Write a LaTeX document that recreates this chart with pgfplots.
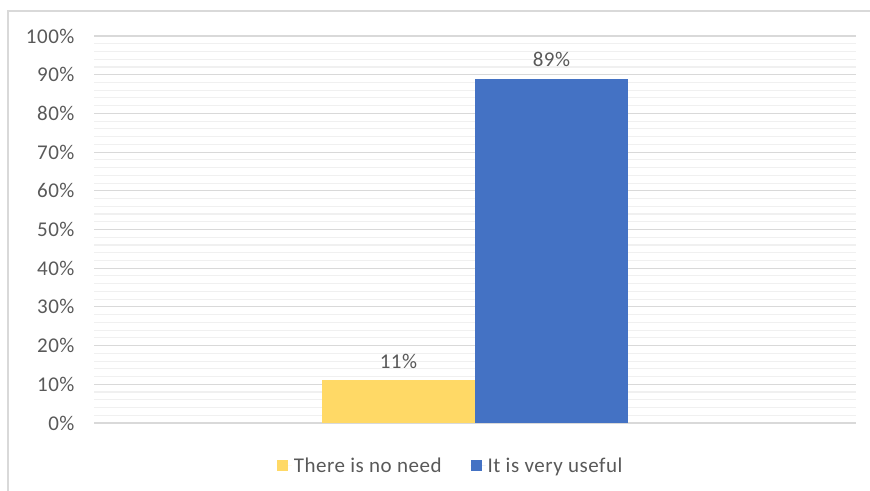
\documentclass[border=0pt]{standalone}
\usepackage{pgfplots}
\pgfplotsset{compat=1.18}
\usepackage{fontspec}
\setmainfont[LetterSpace=2.5]{Carlito}
\definecolor{ybar}{HTML}{FFD966}
\definecolor{bbar}{HTML}{4472C4}
\definecolor{txt}{HTML}{595959}
\definecolor{gmaj}{HTML}{D9D9D9}
\definecolor{gmin}{HTML}{F0F0F0}
\begin{document}
\begin{tikzpicture}[x=1pt,y=1pt]
\useasboundingbox (0,0) rectangle (870,490);
\draw[gmaj, line width=1.2pt] (8,-5) -- (8,479) -- (875,479);
\begin{axis}[
  at={(94pt,67pt)}, anchor=south west,
  scale only axis, width=762pt, height=387pt,
  xmin=-381, xmax=381, ymin=0, ymax=100,
  ytick={0,10,...,100},
  yticklabels={0\%,10\%,20\%,30\%,40\%,50\%,60\%,70\%,80\%,90\%,100\%},
  minor y tick num=4,
  xtick=\empty,
  ymajorgrids, yminorgrids,
  major grid style={gmaj, line width=1.1pt},
  minor grid style={gmin, line width=1.1pt},
  axis lines*=left,
  y axis line style={draw=none},
  x axis line style={gmaj, line width=1.2pt, -},
  major tick length=0pt, minor tick length=0pt,
  tick label style={font=\fontsize{21}{24}\selectfont, text=txt},
  yticklabel style={xshift=-16pt},
  ybar, bar width=153pt,
  /pgf/number format/assume math mode=true,
  nodes near coords={\pgfmathprintnumber{\pgfplotspointmeta}\%},
  nodes near coords style={font=\fontsize{21}{24}\selectfont, text=txt, yshift=8pt},
  legend style={at={(0.468,-0.111)}, anchor=center, draw=none, fill=none,
    legend columns=2, font=\fontsize{21}{24}\selectfont, text=txt,
    /tikz/every even column/.append style={column sep=27pt}},
  legend image code/.code={\fill[#1] (0pt,-5.5pt) rectangle (11pt,5.5pt); \path (0pt,0pt) -- (15pt,0pt);},
]
\addplot[fill=ybar, draw=none, bar shift=-76.5pt] coordinates {(0,11)};
\addplot[fill=bbar, draw=none, bar shift=76.5pt] coordinates {(0,89)};
\legend{There is no need, It is very useful}
\end{axis}
\end{tikzpicture}
\end{document}
